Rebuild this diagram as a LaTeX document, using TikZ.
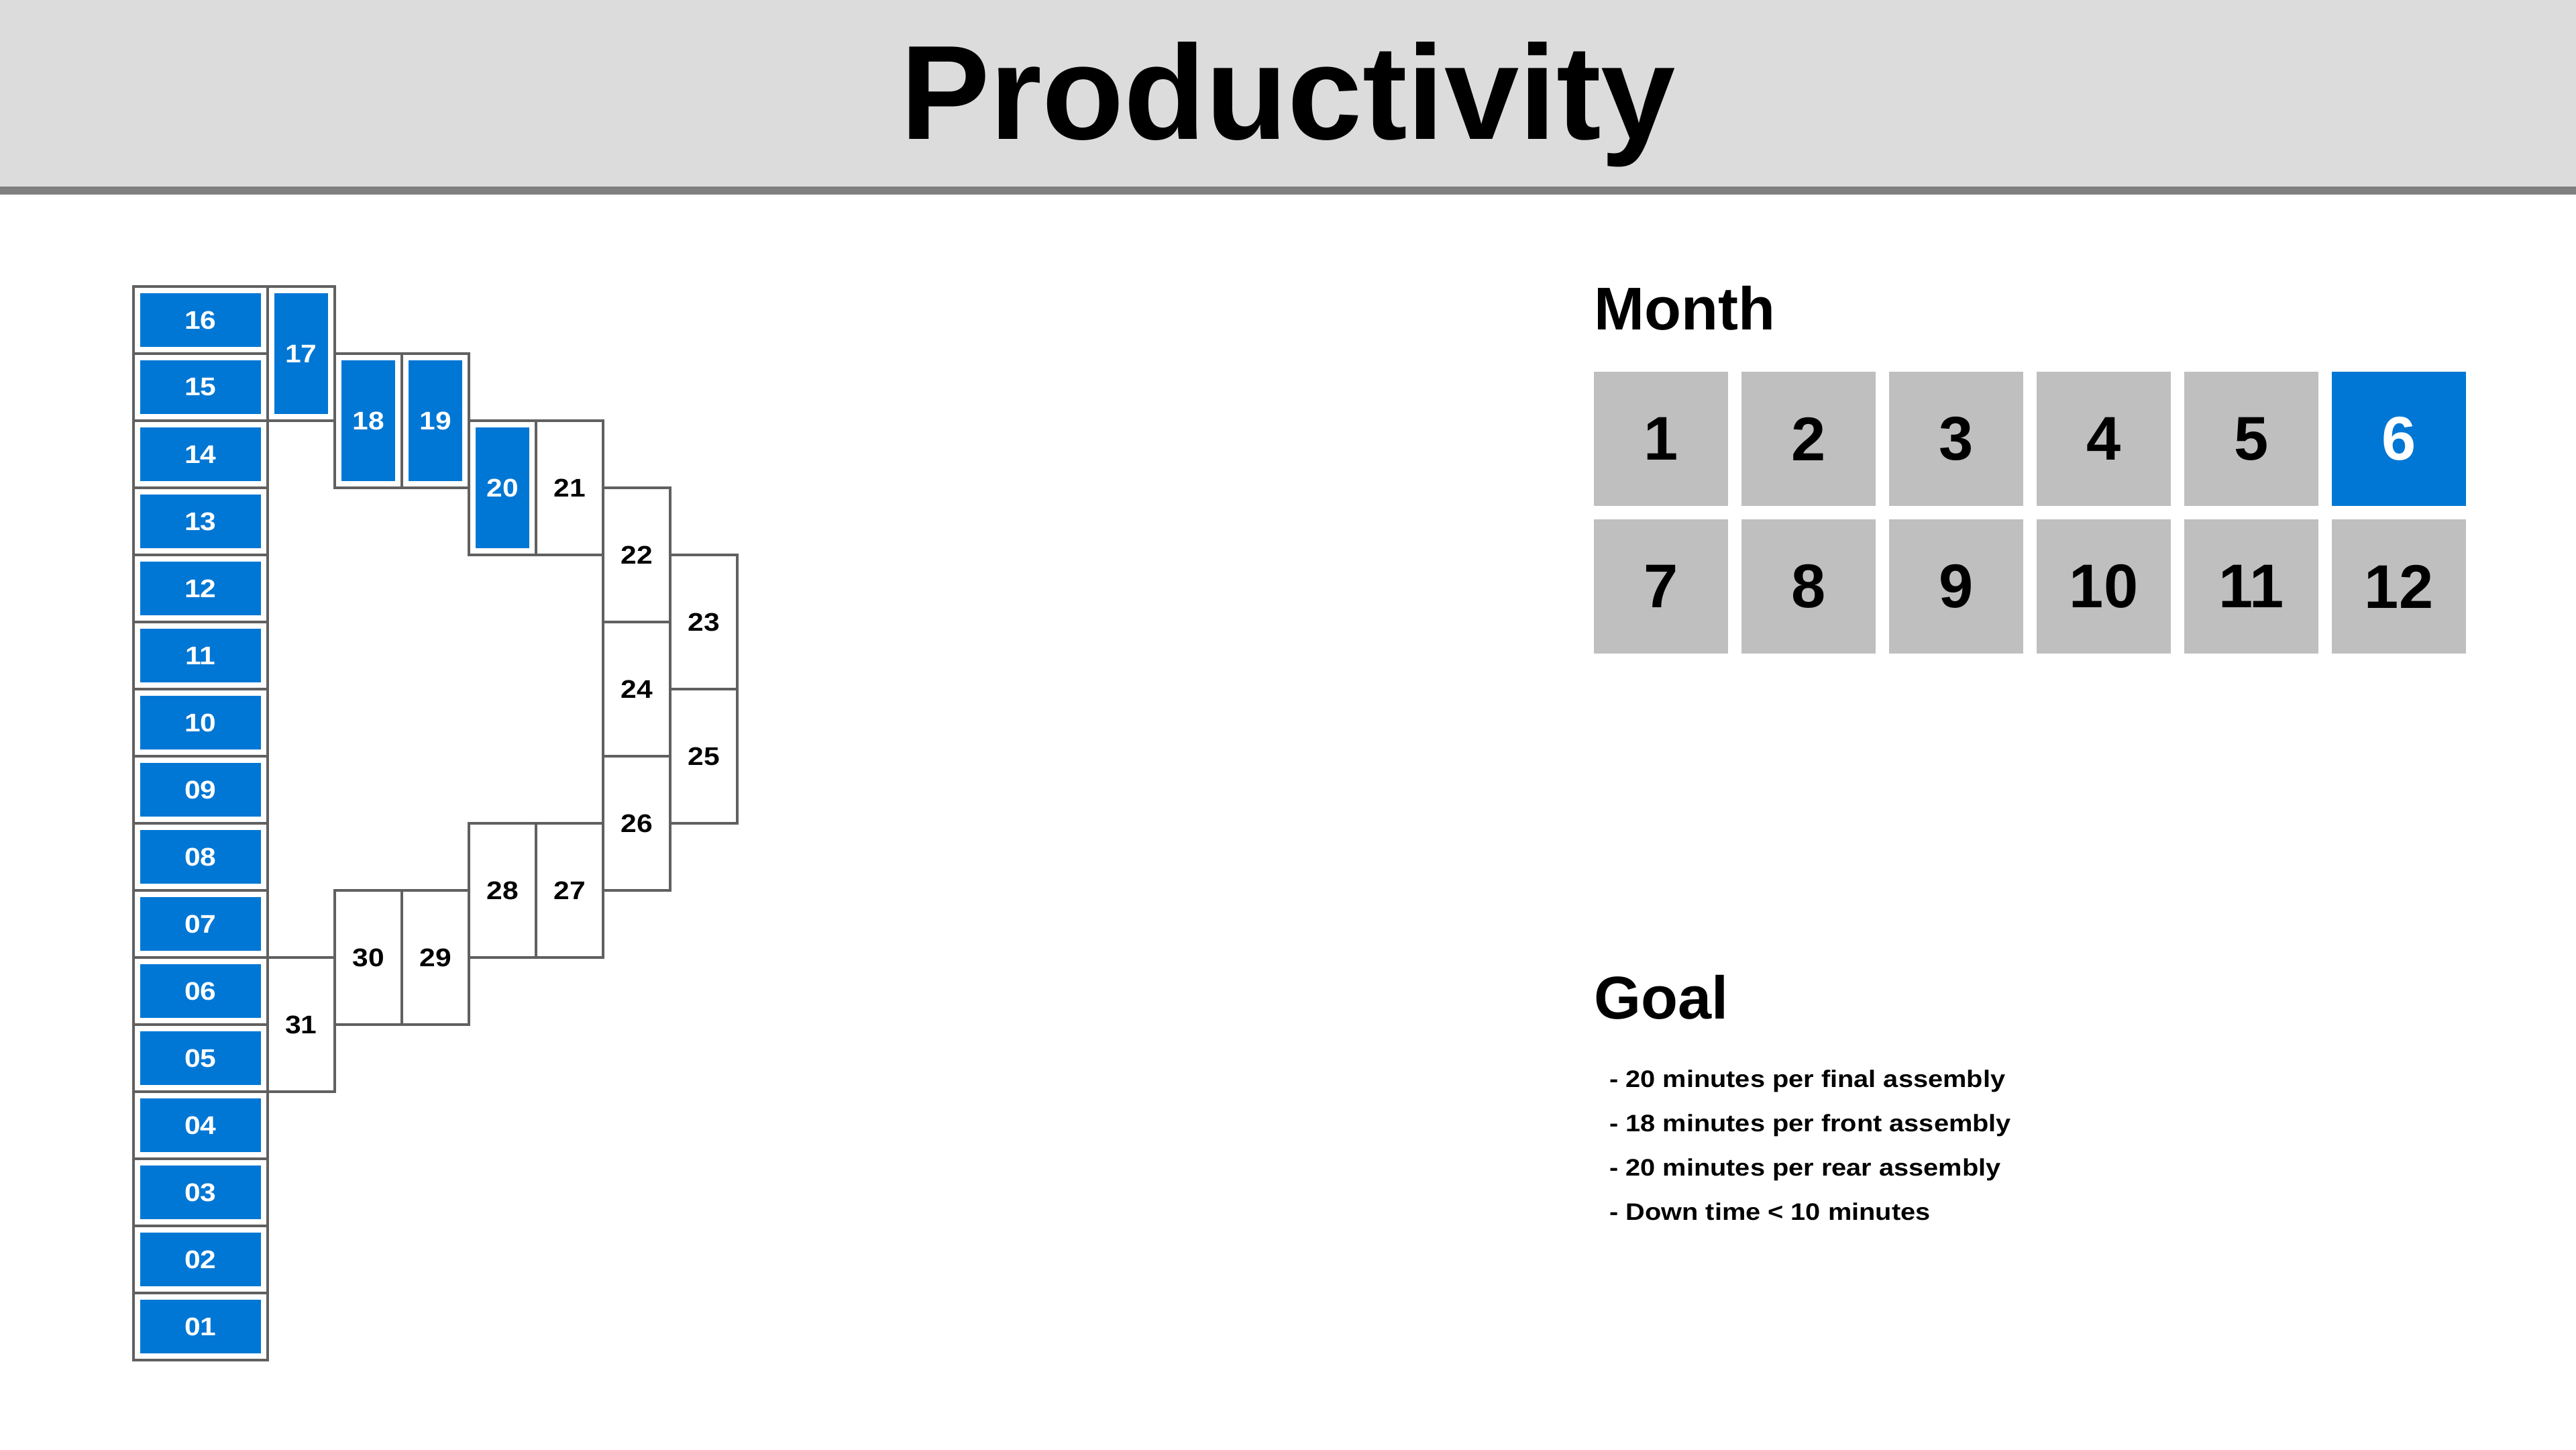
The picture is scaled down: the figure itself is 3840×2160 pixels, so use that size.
\documentclass[tikz,border=0pt]{standalone}
\usepackage{fontspec}
\setmainfont{Liberation Sans}
\newfontfamily\widesans{Liberation Sans}[FakeStretch=1.12]
\definecolor{bandgray}{HTML}{DCDCDC}
\definecolor{rulegray}{HTML}{7F7F7F}
\definecolor{cellline}{HTML}{606060}
\definecolor{tilegray}{HTML}{BFBFBF}
\definecolor{doneblue}{HTML}{0077D4}

\begin{document}
\begin{tikzpicture}[x=1pt,y=-1pt,
  cell/.style={draw=cellline, line width=3.5pt, inner sep=0pt,
    minimum width=100pt, minimum height=200pt,
    font=\widesans\bfseries\fontsize{38}{46}\selectfont},
  wide/.style={minimum width=200pt, minimum height=100pt},
  done/.style={text=white, path picture={
      \fill[doneblue] ([shift={(10pt,10pt)}]path picture bounding box.south west)
        rectangle ([shift={(-10pt,-10pt)}]path picture bounding box.north east);}},
  tile/.style={fill=tilegray, inner sep=0pt, minimum size=200pt,
    font=\bfseries\fontsize{92}{110}\selectfont},
  current/.style={fill=doneblue, text=white},
  heading/.style={anchor=base west, inner sep=0pt,
    font=\bfseries\fontsize{90}{108}\selectfont},
  goalline/.style={anchor=base west, inner sep=0pt,
    font=\widesans\bfseries\fontsize{35.5}{44}\selectfont}
]
\useasboundingbox (0,0) rectangle (3840,2160);

% title band
\fill[bandgray] (0,0) rectangle (3840,278);
\fill[rulegray] (0,278) rectangle (3840,290);
\node[anchor=base, inner sep=0pt, font=\bfseries\fontsize{200}{240}\selectfont]
  (title) at (1920,207) {Productivity};

% line layout: left column of stations
\foreach \r/\lab in {0/16,1/15,2/14,3/13,4/12,5/11,6/10,7/09,
                     8/08,9/07,10/06,11/05,12/04,13/03,14/02,15/01}
  \node[cell, wide, done] (c\lab) at (299,{477+100*\r}) {\lab};

% upper arc
\node[cell, done] (c17) at (449,527) {17};
\node[cell, done] (c18) at (549,627) {18};
\node[cell, done] (c19) at (649,627) {19};
\node[cell, done] (c20) at (749,727) {20};
\node[cell] (c21) at (849,727) {21};
\node[cell] (c22) at (949,827) {22};
\node[cell] (c23) at (1049,927) {23};
\node[cell] (c24) at (949,1027) {24};
\node[cell] (c25) at (1049,1127) {25};
% lower arc
\node[cell] (c26) at (949,1227) {26};
\node[cell] (c27) at (849,1327) {27};
\node[cell] (c28) at (749,1327) {28};
\node[cell] (c29) at (649,1427) {29};
\node[cell] (c30) at (549,1427) {30};
\node[cell] (c31) at (449,1527) {31};

% month selector
\node[heading] (month) at (2376,491) {Month};
\foreach \n in {1,...,12}{
  \pgfmathtruncatemacro{\col}{mod(\n-1,6)}
  \pgfmathtruncatemacro{\row}{div(\n-1,6)}
  \ifnum\n=6
    \node[tile, current] (m\n) at ({2476+220*\col},{654+220*\row}) {\n};
  \else
    \node[tile] (m\n) at ({2476+220*\col},{654+220*\row}) {\n};
  \fi
}

% goals
\node[heading] (goal) at (2376,1518) {Goal};
\node[goalline] (g1) at (2399,1620) {- 20 minutes per final assembly};
\node[goalline] (g2) at (2399,1686) {- 18 minutes per front assembly};
\node[goalline] (g3) at (2399,1752) {- 20 minutes per rear assembly};
\node[goalline] (g4) at (2399,1818) {- Down time < 10 minutes};
\end{tikzpicture}
\end{document}
